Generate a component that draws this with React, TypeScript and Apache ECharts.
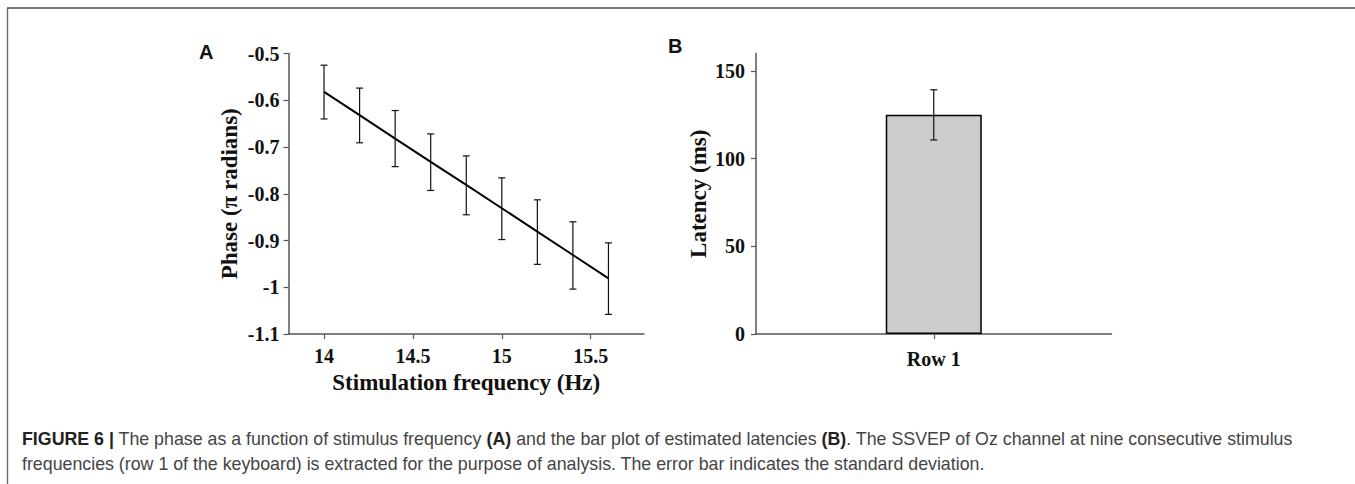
import React, { useEffect, useRef } from "react";
import * as echarts from "echarts";

// Panel A: phase vs stimulation frequency
const freqs = [14, 14.2, 14.4, 14.6, 14.8, 15.0, 15.2, 15.4, 15.6];
const phaseMean = [-0.582, -0.632, -0.682, -0.732, -0.781, -0.831, -0.881, -0.931, -0.981];
const phaseUpper = [-0.525, -0.574, -0.622, -0.672, -0.719, -0.766, -0.813, -0.86, -0.905];
const phaseLower = [-0.64, -0.691, -0.742, -0.793, -0.845, -0.898, -0.951, -1.004, -1.058];
const freqTicks = [14, 14.5, 15, 15.5];

// Panel B: latency bar
const rows = ["Row 1"];
const latency = [125];
const latencyLow = [110.7];
const latencyHigh = [139.3];
const latencyTicks = [0, 50, 100, 150];

const SERIF = "'Liberation Serif', 'Times New Roman', serif";
const SANS = "'Liberation Sans', Arial, sans-serif";
const AXIS = "#555555";

function errorRender(params: any, api: any) {
  const x = api.value(0);
  const lo = api.value(1);
  const hi = api.value(2);
  const pLo = api.coord([x, lo]);
  const pHi = api.coord([x, hi]);
  const w = 3.5;
  const st = { stroke: "#111111", lineWidth: 1.2 };
  return {
    type: "group",
    children: [
      { type: "line", shape: { x1: pLo[0], y1: pLo[1], x2: pHi[0], y2: pHi[1] }, style: st },
      { type: "line", shape: { x1: pLo[0] - w, y1: pLo[1], x2: pLo[0] + w, y2: pLo[1] }, style: st },
      { type: "line", shape: { x1: pHi[0] - w, y1: pHi[1], x2: pHi[0] + w, y2: pHi[1] }, style: st },
    ],
  };
}

export default function App() {
  const ref = useRef<HTMLDivElement>(null);
  useEffect(() => {
    document.body.style.margin = "0";
    const chart = echarts.init(ref.current!, null, { renderer: "svg" });
    const axisLine = { show: true, lineStyle: { color: AXIS, width: 1.5 } };
    const axisTick = { show: true, inside: false, length: 5, lineStyle: { color: AXIS, width: 1.2 } };
    const tickLabel = { color: "#111", fontFamily: SERIF, fontWeight: "bold" as const, fontSize: 20 };
    const nameStyle = { color: "#111", fontFamily: SERIF, fontWeight: "bold" as const, fontSize: 23 };
    const capFont = 17.8;

    const option: any = {
      animation: false,
      backgroundColor: "#ffffff",
      grid: [
        { left: 288.5, top: 53.5, width: 355.5, height: 280.5 },
        { left: 756, top: 53.5, width: 355.5, height: 280.5 },
      ],
      xAxis: [
        {
          type: "value",
          gridIndex: 0,
          min: 13.8,
          max: 15.8,
          splitLine: { show: false },
          axisLine,
          axisTick: { ...axisTick, customValues: freqTicks },
          axisLabel: { ...tickLabel, margin: 12, customValues: freqTicks },
          name: "Stimulation frequency (Hz)",
          nameLocation: "middle",
          nameGap: 37,
          nameTextStyle: nameStyle,
        },
        {
          type: "category",
          gridIndex: 1,
          data: rows,
          axisLine,
          axisTick: { ...axisTick, alignWithLabel: true },
          axisLabel: { ...tickLabel, margin: 15 },
        },
      ],
      yAxis: [
        {
          type: "value",
          gridIndex: 0,
          min: -1.1,
          max: -0.5,
          interval: 0.1,
          splitLine: { show: false },
          axisLine,
          axisTick,
          axisLabel: { ...tickLabel, margin: 9 },
          name: "Phase (π radians)",
          nameLocation: "middle",
          nameGap: 48,
          nameTextStyle: nameStyle,
        },
        {
          type: "value",
          gridIndex: 1,
          min: 0,
          max: 160,
          splitLine: { show: false },
          axisLine,
          axisTick: { ...axisTick, customValues: latencyTicks },
          axisLabel: { ...tickLabel, margin: 11, customValues: latencyTicks },
          name: "Latency (ms)",
          nameLocation: "middle",
          nameGap: 46,
          nameTextStyle: nameStyle,
        },
      ],
      series: [
        {
          type: "line",
          xAxisIndex: 0,
          yAxisIndex: 0,
          data: freqs.map((f, i) => [f, phaseMean[i]]),
          showSymbol: false,
          symbol: "none",
          lineStyle: { color: "#000", width: 2 },
          silent: true,
          z: 3,
        },
        {
          type: "custom",
          xAxisIndex: 0,
          yAxisIndex: 0,
          data: freqs.map((f, i) => [f, phaseLower[i], phaseUpper[i]]),
          renderItem: errorRender,
          silent: true,
          z: 4,
        },
        {
          type: "bar",
          xAxisIndex: 1,
          yAxisIndex: 1,
          data: latency,
          barWidth: "27%",
          itemStyle: { color: "#cccccc", borderColor: "#000", borderWidth: 1.5 },
          silent: true,
        },
        {
          type: "custom",
          xAxisIndex: 1,
          yAxisIndex: 1,
          data: rows.map((_, i) => [i, latencyLow[i], latencyHigh[i]]),
          renderItem: errorRender,
          silent: true,
          z: 4,
        },
      ],
      graphic: [
        { type: "line", shape: { x1: 7, y1: 8, x2: 1355, y2: 8 }, style: { stroke: "#4a4a4a", lineWidth: 1.6 } },
        { type: "line", shape: { x1: 7.5, y1: 8, x2: 7.5, y2: 484 }, style: { stroke: "#6a6a6a", lineWidth: 1.4 } },
        {
          type: "text",
          x: 199,
          y: 52,
          style: { text: "A", fill: "#111", font: `bold 20px ${SANS}`, verticalAlign: "middle" },
        },
        {
          type: "text",
          x: 668,
          y: 46,
          style: { text: "B", fill: "#111", font: `bold 20px ${SANS}`, verticalAlign: "middle" },
        },
        {
          type: "text",
          x: 22,
          y: 439,
          style: {
            text:
              "{b|FIGURE 6 |} The phase as a function of stimulus frequency {b|(A)} and the bar plot of estimated latencies {b|(B)}. The SSVEP of Oz channel at nine consecutive stimulus",
            fill: "#444",
            font: `${capFont}px ${SANS}`,
            verticalAlign: "middle",
            rich: {
              b: { fontWeight: "bold", fill: "#222", fontSize: capFont, fontFamily: SANS },
            },
          },
        },
        {
          type: "text",
          x: 22,
          y: 464,
          style: {
            text:
              "frequencies (row 1 of the keyboard) is extracted for the purpose of analysis. The error bar indicates the standard deviation.",
            fill: "#444",
            font: `${capFont}px ${SANS}`,
            verticalAlign: "middle",
          },
        },
      ],
    };
    chart.setOption(option);
    return () => chart.dispose();
  }, []);
  return <div ref={ref} style={{ width: 1355, height: 484 }} />;
}
